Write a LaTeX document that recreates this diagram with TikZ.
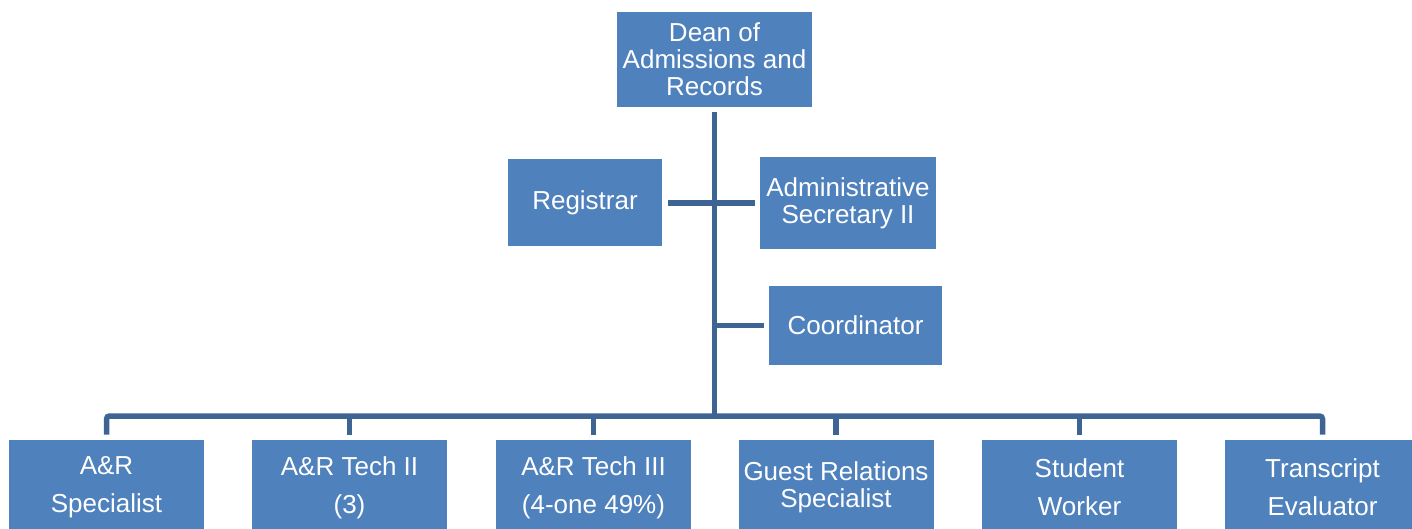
\documentclass[tikz,border=0pt]{standalone}
\usepackage{fontspec}
\setmainfont{Liberation Sans}
\definecolor{boxblue}{RGB}{79,129,189}
\definecolor{linkblue}{RGB}{62,100,148}
\begin{document}
\begin{tikzpicture}[x=1pt,y=-1pt,
  post/.style={fill=boxblue, text=white, align=center, inner sep=0pt,
    outer sep=5.5pt, font=\fontsize{26}{27}\selectfont},
  link/.style={draw=linkblue, line width=5.5pt}]
\useasboundingbox (0,0) rectangle (1412,529);
\clip (0,0) rectangle (1412,529);

% top of the hierarchy
\node[post, minimum width=195pt, minimum height=95pt] (dean) at (714.5,59.5)
  {Dean of\\Admissions and\\Records};

% staff reporting directly to the dean
\node[post, minimum width=154pt, minimum height=87pt] (reg) at (585,203)
  {Registrar};
\node[post, minimum width=176pt, minimum height=92pt] (admin) at (848,203)
  {Administrative\\Secretary II};
\node[post, minimum width=173pt, minimum height=79pt] (coord) at (855.5,325.5)
  {Coordinator};

% bottom row
\foreach \n/\x/\t in {b1/106.5/{A\&R\\[11pt]Specialist},
                      b2/349.5/{A\&R Tech II\\[11pt](3)},
                      b3/593.5/{A\&R Tech III\\[11pt](4-one 49\%)},
                      b4/836/{Guest Relations\\Specialist},
                      b5/1079.5/{Student\\[11pt]Worker},
                      b6/1322.5/{Transcript\\[11pt]Evaluator}}
  \node[post, minimum width=195pt, minimum height=95pt] (\n) at (\x,487.5) {\t};

\coordinate (hub) at (714.5,416);

% connectors
\draw[link] (dean.south) -- (dean.south |- hub);
\draw[link] (reg.east) -- (reg.east -| admin.west);
\draw[link] (coord.west) -- (coord.west -| dean.south);
\draw[link, rounded corners=3pt] (b1.north) |- (hub) -| (b6.north);
\foreach \n in {b2,b3,b4,b5}
  \draw[link] (\n.north) -- (\n.north |- hub);
\end{tikzpicture}
\end{document}
